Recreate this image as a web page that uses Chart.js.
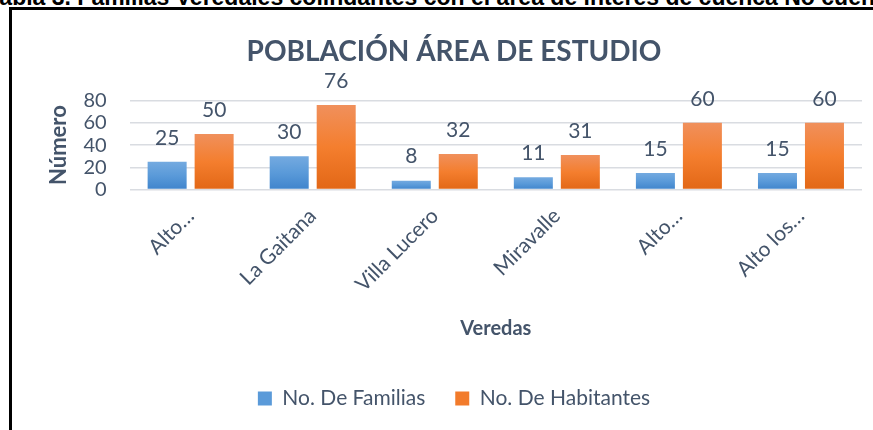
<!DOCTYPE html>
<html>
<head>
<meta charset="utf-8">
<script src="https://cdn.jsdelivr.net/npm/chart.js@4.4.1/dist/chart.umd.min.js"></script>
<style>
  html, body { margin: 0; padding: 0; background: #fff; width: 873px; height: 430px; overflow: hidden; }
  #caption { position: absolute; left: -13px; top: -14px; font: bold 23px/23px "Liberation Sans", Arial, sans-serif; color: #000; white-space: nowrap; }
  #frame { position: absolute; left: 9px; top: 7px; width: 2000px; height: 1000px; border-left: 3px solid #000; border-top: 3px solid #000; }
  #wrap { position: absolute; left: 0; top: 0; width: 873px; height: 430px; }
</style>
</head>
<body>
<div id="caption">Tabla 3. Familias Veredales colindantes con el área de interés de cuenca No cuenca</div>
<div id="frame"></div>
<div id="wrap"><canvas id="c" width="873" height="430"></canvas></div>
<script>
const categories = ['Alto…', 'La Gaitana', 'Villa Lucero', 'Miravalle', 'Alto…', 'Alto los…'];
const familias = [25, 30, 8, 11, 15, 15];
const habitantes = [50, 76, 32, 31, 60, 60];
const seriesNames = ['No. De Familias', 'No. De Habitantes'];
const yTicks = [0, 20, 40, 60, 80];
const chartTitle = 'POBLACIÓN ÁREA DE ESTUDIO';
const yTitle = 'Número';
const xTitle = 'Veredas';

const textColor = '#44546a';
const FONT = 'Lato, "Open Sans", sans-serif';

function barGradient(stops) {
  return function (ctx) {
    const chart = ctx.chart;
    const area = chart.chartArea;
    if (!area || ctx.type !== 'data') return stops[1][1];
    const ys = chart.scales.y;
    const top = ys.getPixelForValue(ctx.raw);
    const bottom = ys.getPixelForValue(0);
    const g = chart.ctx.createLinearGradient(0, top, 0, bottom);
    stops.forEach(s => g.addColorStop(s[0], s[1]));
    return g;
  };
}
const blueStops = [[0, '#74aae0'], [0.5, '#5a9ad9'], [1, '#3f84cc']];
const orangeStops = [[0, '#f0905c'], [0.5, '#f47e2e'], [1, '#e26716']];
const legendColors = ['#5a9ad9', '#f27b2b'];

const dataLabels = {
  id: 'dataLabels',
  afterDatasetsDraw(chart) {
    const ctx = chart.ctx;
    ctx.save();
    ctx.font = '21px ' + FONT;
    ctx.fillStyle = textColor;
    ctx.textAlign = 'center';
    ctx.textBaseline = 'middle';
    chart.data.datasets.forEach((ds, i) => {
      chart.getDatasetMeta(i).data.forEach((el, j) => {
        ctx.fillText(String(ds.data[j]), el.x, el.y - 24);
      });
    });
    ctx.restore();
  }
};

new Chart(document.getElementById('c'), {
  type: 'bar',
  data: {
    labels: categories,
    datasets: [
      { label: seriesNames[0], data: familias, backgroundColor: barGradient(blueStops) },
      { label: seriesNames[1], data: habitantes, backgroundColor: barGradient(orangeStops) }
    ]
  },
  options: {
    responsive: false,
    animation: false,
    devicePixelRatio: 1,
    categoryPercentage: 0.77,
    barPercentage: 0.83,
    layout: { padding: { left: 46, right: 11, top: 35, bottom: 11 } },
    plugins: {
      title: {
        display: true, text: chartTitle, color: textColor,
        font: { family: FONT, size: 28, weight: 'bold' },
        padding: { top: 0, bottom: 32 }
      },
      legend: {
        position: 'bottom',
        labels: {
          color: textColor, font: { family: FONT, size: 21 },
          boxWidth: 14, boxHeight: 14, padding: 30,
          generateLabels(chart) {
            const items = Chart.defaults.plugins.legend.labels.generateLabels(chart);
            items.forEach((it, i) => { it.fillStyle = legendColors[i]; it.strokeStyle = legendColors[i]; it.lineWidth = 0; });
            return items;
          }
        }
      },
      tooltip: { enabled: false }
    },
    scales: {
      x: {
        grid: { display: false, drawTicks: false },
        border: { display: false },
        ticks: { color: textColor, font: { family: FONT, size: 21 }, minRotation: 45, maxRotation: 45, autoSkip: false, padding: 14 },
        title: { display: true, text: xTitle, color: textColor, font: { family: FONT, size: 20, weight: 'bold' }, padding: { top: 6, bottom: 17 } },
        afterFit(scale) { scale.paddingLeft = 0; scale.paddingRight = 0; }
      },
      y: {
        min: 0, max: 80,
        afterBuildTicks(scale) { scale.ticks = yTicks.map(v => ({ value: v })); },
        grid: { color: '#d9dce1', lineWidth: 1.5, drawTicks: false },
        border: { display: false },
        ticks: { color: textColor, font: { family: FONT, size: 20 }, padding: 23, autoSkip: false },
        title: { display: true, text: yTitle, color: textColor, font: { family: FONT, size: 22, weight: 'bold' }, padding: { top: 0, bottom: -12 } }
      }
    }
  },
  plugins: [dataLabels]
});
</script>
</body>
</html>
